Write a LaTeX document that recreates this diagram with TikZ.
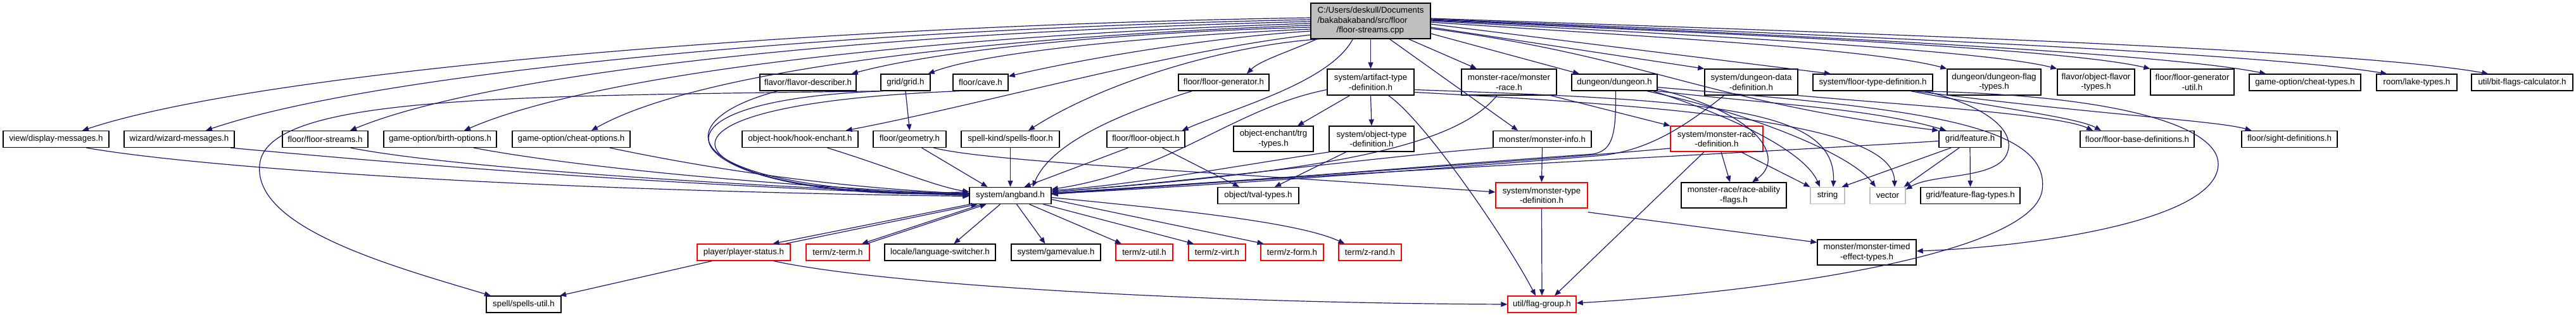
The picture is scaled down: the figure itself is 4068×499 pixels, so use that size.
\documentclass[tikz,border=0pt]{standalone}
\usepackage{fontspec}
\setmainfont{Liberation Sans}
\usetikzlibrary{arrows.meta}
\definecolor{dblue}{HTML}{191970}
\definecolor{gsev}{HTML}{BFBFBF}
\begin{document}
\begin{tikzpicture}[x=1pt,y=-1pt,
  nb/.style={draw=black, line width=1.3pt, inner sep=0pt, align=center, fill=white,
    font=\fontsize{13.3}{15.5}\selectfont, minimum height=26pt},
  two/.style={minimum height=41pt},
  rb/.style={nb, draw=red},
  gb/.style={nb, draw=gsev},
  dep/.style={draw=dblue, line width=1.2pt, -{Triangle[length=10pt,width=8pt]}}]
\path[use as bounding box] (0,0) rectangle (4068,499);

% root
\node[nb, fill=gsev, minimum width=189pt, minimum height=56pt, align=left] (r) at (2164.5,33)
  {C:/Users/deskull/Documents\\/bakabakaband/src/floor\\\hspace*{30pt}/floor-streams.cpp};

% row A
\node[nb, minimum width=152pt] (fd) at (1276,130) {flavor/flavor-describer.h};
\node[nb, minimum width=78pt] (gg) at (1430,130) {grid/grid.h};
\node[nb, minimum width=87pt] (cave) at (1548.5,130) {floor/cave.h};
\node[nb, minimum width=143pt] (fg) at (1932.5,130) {floor/floor-generator.h};
\node[nb, two, minimum width=137pt] (art) at (2164.5,129.5) {system/artifact-type\\-definition.h};
\node[nb, two, minimum width=150pt] (mr) at (2383,129.5) {monster-race/monster\\-race.h};
\node[nb, minimum width=135pt] (dun) at (2549.5,130) {dungeon/dungeon.h};
\node[nb, two, minimum width=147pt] (ddd) at (2765.5,129.5) {system/dungeon-data\\-definition.h};
\node[nb, minimum width=189pt] (ftd) at (2957.5,130) {system/floor-type-definition.h};
\node[nb, two, minimum width=148pt] (dft) at (3149,129.5) {dungeon/dungeon-flag\\-types.h};
\node[nb, two, minimum width=122pt] (oft) at (3310,129.5) {flavor/object-flavor\\-types.h};
\node[nb, two, minimum width=132pt] (fgu) at (3462,129.5) {floor/floor-generator\\-util.h};
\node[nb, minimum width=176pt] (ct) at (3640,130) {game-option/cheat-types.h};
\node[nb, minimum width=127pt] (lt) at (3816.5,130) {room/lake-types.h};
\node[nb, minimum width=160pt] (bfc) at (3983,130) {util/bit-flags-calculator.h};

% row B
\node[nb, minimum width=167pt] (dm) at (88.5,219.5) {view/display-messages.h};
\node[nb, minimum width=174pt] (wm) at (283,219.5) {wizard/wizard-messages.h};
\node[nb, minimum width=135pt] (fs) at (513.5,219.5) {floor/floor-streams.h};
\node[nb, minimum width=178pt] (bo) at (695,219.5) {game-option/birth-options.h};
\node[nb, minimum width=186pt] (co) at (902,219.5) {game-option/cheat-options.h};
\node[nb, minimum width=183pt] (he) at (1263.5,219.5) {object-hook/hook-enchant.h};
\node[nb, minimum width=115pt] (geo) at (1436.5,219.5) {floor/geometry.h};
\node[nb, minimum width=155pt] (sf) at (1595.5,219.5) {spell-kind/spells-floor.h};
\node[nb, minimum width=123pt] (fo) at (1809.5,219.5) {floor/floor-object.h};
\node[nb, two, minimum width=126pt, minimum height=40pt] (trg) at (2011,219) {object-enchant/trg\\-types.h};
\node[nb, two, minimum width=134pt, minimum height=40pt] (otd) at (2166,219) {system/object-type\\-definition.h};
\node[nb, minimum width=155pt] (mi) at (2435.5,219.5) {monster/monster-info.h};
\node[rb, two, minimum width=146pt, minimum height=40pt] (mrd) at (2711,219) {system/monster-race\\-definition.h};
\node[nb, minimum width=98pt] (feat) at (3111,219.5) {grid/feature.h};
\node[nb, minimum width=180pt] (fbd) at (3375,219.5) {floor/floor-base-definitions.h};
\node[nb, minimum width=151pt] (sd) at (3615.5,219.5) {floor/sight-definitions.h};

% row C
\node[nb, minimum width=129pt] (ang) at (1595.5,308.5) {system/angband.h};
\node[nb, minimum width=128pt] (tval) at (1987,308.5) {object/tval-types.h};
\node[rb, two, minimum width=145pt, minimum height=40pt] (mtd) at (2434.5,308) {system/monster-type\\-definition.h};
\node[nb, two, minimum width=166pt, minimum height=40pt] (raf) at (2738,308) {monster-race/race-ability\\-flags.h};
\node[gb, minimum width=54pt] (str) at (2886,308.5) {string};
\node[gb, minimum width=56pt] (vec) at (2981,308.5) {vector};
\node[nb, minimum width=157pt] (fft) at (3111.5,308.5) {grid/feature-flag-types.h};

% row D
\node[rb, minimum width=147pt] (ps) at (1174.5,398) {player/player-status.h};
\node[rb, minimum width=100pt] (zt) at (1323,398) {term/z-term.h};
\node[nb, minimum width=175pt] (ls) at (1484.5,398) {locale/language-switcher.h};
\node[nb, minimum width=141pt] (gv) at (1667.5,398) {system/gamevalue.h};
\node[rb, minimum width=90pt] (zu) at (1807,398) {term/z-util.h};
\node[rb, minimum width=90pt] (zv) at (1922,398) {term/z-virt.h};
\node[rb, minimum width=99pt] (zf) at (2040.5,398) {term/z-form.h};
\node[rb, minimum width=99pt] (zr) at (2163.5,398) {term/z-rand.h};
\node[nb, two, minimum width=156pt, minimum height=40pt] (mte) at (2948,398) {monster/monster-timed\\-effect-types.h};

% row E
\node[nb, minimum width=118pt] (su) at (827,480) {spell/spells-util.h};
\node[rb, minimum width=108pt] (fgr) at (2435,480) {util/flag-group.h};

% ---- edges from root
\draw[dep] ([yshift=5pt]r.west) .. controls (1300,40) and (420,110) .. ([xshift=41.5pt]dm.north);
\draw[dep] ([yshift=2pt]r.west) .. controls (1350,45) and (600,112) .. ([xshift=42pt]wm.north);
\draw[dep] ([yshift=-1pt]r.west) .. controls (1400,50) and (780,112) .. ([xshift=39.5pt]fs.north);
\draw[dep] ([yshift=-4pt]r.west) .. controls (1500,55) and (950,112) .. ([xshift=38pt]bo.north);
\draw[dep] ([yshift=-7pt]r.west) .. controls (1550,58) and (1100,112) .. ([xshift=32pt]co.north);
\draw[dep] ([yshift=-10pt]r.west) .. controls (1800,50) and (1500,75) .. ([xshift=-8pt]fd.north east);
\draw[dep] ([yshift=-13pt]r.west) .. controls (1850,55) and (1560,80) .. ([xshift=-4pt]gg.north east);
\draw[dep] ([yshift=-16pt]r.west) .. controls (1900,60) and (1700,95) .. ([yshift=-4pt]cave.north east);
\draw[dep] ([yshift=-22pt]r.west) .. controls (1850,80) and (1550,165) .. ([xshift=-20pt]he.north east);
\draw[dep] ([xshift=10pt]r.south west) .. controls (2040,80) and (1990,95) .. ([xshift=36.5pt]fg.north);
\draw[dep] ([xshift=15pt]r.south west) .. controls (1950,70) and (1750,125) .. ([xshift=28.5pt]sf.north);
\draw[dep] ([xshift=67pt]r.south west) .. controls (2100,130) and (1950,170) .. ([xshift=-5pt]fo.north east);
\draw[dep] (r.south) -- (art.north);
\draw[dep] ([xshift=30pt]r.south) -- ([xshift=-38.5pt]mi.north);
\draw[dep] ([xshift=60pt]r.south) -- ([xshift=-51pt]mr.north);
\draw[dep] ([yshift=-20pt]r.east) -- ([xshift=-55.5pt]dun.north);
\draw[dep] ([yshift=-10pt]r.east) -- (ddd.north west);
\draw[dep] ([yshift=-5pt]r.east) -- ([xshift=-66.5pt]ftd.north);
\draw[dep] ([yshift=-2pt]r.east) .. controls (2550,55) and (2950,75) .. (dft.north west);
\draw[dep] (r.east) .. controls (2600,52) and (3120,76) .. (oft.north west);
\draw[dep] ([yshift=1pt]r.east) .. controls (2650,50) and (3250,74) .. (fgu.north west);
\draw[dep] ([yshift=2pt]r.east) .. controls (2700,50) and (3400,80) .. ([xshift=27pt]ct.north west);
\draw[dep] ([yshift=3pt]r.east) .. controls (2750,50) and (3550,80) .. ([xshift=17pt]lt.north west);
\draw[dep] ([yshift=4pt]r.east) .. controls (2800,48) and (3700,75) .. ([xshift=27pt]bfc.north west);
\draw[dep] ([yshift=-12pt]r.east) .. controls (2600,90) and (2690,160) .. (feat.north west);

% ---- row A
\draw[dep] ([xshift=-48pt]fd.south) .. controls (1050,190) and (1050,300) .. ([yshift=2pt]ang.west);
\draw[dep] (gg.south) -- (geo.north);
\draw[dep] ([xshift=-35pt]gg.south) .. controls (950,160) and (1080,320) .. ([yshift=4pt]ang.west);
\draw[dep] (gg.south west) .. controls (800,152) and (420,150) .. (410,260) .. controls (400,360) and (620,420) .. ([xshift=-52pt]su.north);
\draw[dep] ([xshift=-34pt]cave.south) .. controls (900,168) and (1110,320) .. ([yshift=6pt]ang.west);
\draw[dep] ([xshift=-50pt]fg.south) .. controls (1700,200) and (1650,250) .. ([xshift=35pt]ang.north);
\draw[dep] ([xshift=-33pt]art.south) -- ([xshift=38pt]trg.north);
\draw[dep] (art.south) -- (otd.north);
\draw[dep] ([yshift=-12pt]art.west) .. controls (1950,170) and (1850,270) .. ([yshift=10pt]ang.east);
\draw[dep] ([xshift=28pt]art.south) .. controls (2250,190) and (2380,380) .. ([xshift=-10pt]fgr.north);
\draw[dep] ([yshift=-12pt]art.east) .. controls (2700,158) and (2900,170) .. ([xshift=9pt]str.north);
\draw[dep] ([yshift=-16pt]art.east) .. controls (2700,170) and (2990,200) .. ([xshift=11pt]vec.north);
\draw[dep] ([xshift=-19pt]mr.south) .. controls (2300,230) and (2100,270) .. ([yshift=6pt]ang.east);
\draw[dep] ([xshift=-10pt]mr.south east) -- (mrd.north west);
\draw[dep] ([xshift=2pt]dun.south) .. controls (2552,210) and (2548,238) .. (2515,243) .. controls (2300,258) and (1900,292) .. ([yshift=4pt]ang.east);
\draw[dep] (dun.south east) .. controls (2800,165) and (2950,170) .. ([xshift=12pt]feat.north west);
\draw[dep] ([yshift=3pt]dun.south east) .. controls (2780,180) and (2820,250) .. ([xshift=29pt]raf.north);
\draw[dep] ([xshift=-7pt]dun.south east) .. controls (2740,185) and (2850,240) .. ([xshift=-12pt]str.north);
\draw[dep] ([xshift=-17pt]dun.south east) .. controls (2750,175) and (2920,240) .. ([xshift=-19pt]vec.north);
\draw[dep] ([yshift=6pt]dun.south east) .. controls (3000,170) and (3240,190) .. (3225,300) .. controls (3210,400) and (2800,460) .. ([yshift=2pt]fgr.east);
\draw[dep] ([xshift=-43pt]ddd.south) .. controls (2660,200) and (2600,240) .. (2520,246) .. controls (2300,264) and (1900,294) .. ([yshift=3pt]ang.east);
\draw[dep] (ddd.south east) .. controls (3000,165) and (3250,180) .. ([xshift=-70pt]fbd.north);
\draw[dep] ([xshift=60pt]ftd.south) .. controls (3150,170) and (3280,185) .. ([xshift=-57pt]fbd.north);
\draw[dep] ([xshift=67pt]ftd.south) .. controls (3300,180) and (3500,190) .. ([xshift=-60pt]sd.north);
\draw[dep] ([xshift=72pt]ftd.south) .. controls (3350,150) and (3505,200) .. (3503,260) .. controls (3500,350) and (3200,390) .. ([yshift=2pt]mte.east);
\draw[dep] ([xshift=82pt]ftd.south) .. controls (3150,170) and (3190,215) .. (3165,250) .. controls (3140,282) and (3050,275) .. ([yshift=-4pt]vec.north east);

% ---- row B
\draw[dep] ([xshift=48pt]dm.south) .. controls (300,262) and (800,300) .. ([yshift=-1pt]ang.west);
\draw[dep] ([xshift=81pt]wm.south) .. controls (600,255) and (1000,290) .. (ang.west);
\draw[dep] ([xshift=40pt]fs.south) .. controls (700,262) and (1100,290) .. ([yshift=1pt]ang.west);
\draw[dep] ([xshift=53pt]bo.south) .. controls (900,262) and (1200,292) .. ([yshift=2pt]ang.west);
\draw[dep] ([xshift=61pt]co.south) .. controls (1100,262) and (1300,295) .. ([yshift=3pt]ang.west);
\draw[dep] ([xshift=43pt]he.south) .. controls (1400,262) and (1480,295) .. ([yshift=6pt]ang.west);
\draw[dep] ([xshift=19pt]geo.south) -- ([xshift=-36pt]ang.north);
\draw[dep] ([xshift=38pt]geo.south) .. controls (1560,255) and (1900,270) .. ([yshift=5pt]mtd.west);
\draw[dep] (sf.south) -- (ang.north);
\draw[dep] ([xshift=-28pt]fo.south) -- ([xshift=22pt]ang.north);
\draw[dep] ([xshift=26pt]fo.south) -- ([xshift=-30pt]tval.north);
\draw[dep] ([xshift=-66pt]otd.south) .. controls (1950,262) and (1800,290) .. ([yshift=8pt]ang.east);
\draw[dep] ([xshift=-40pt]otd.south) -- ([xshift=26pt]tval.north);
\draw[dep] (mi.south) -- (mtd.north);
\draw[dep] (mi.south west) .. controls (2150,250) and (1900,285) .. ([yshift=6pt]ang.east);
\draw[dep] ([yshift=-15pt]mrd.west) .. controls (2400,255) and (2000,282) .. ([yshift=4pt]ang.east);
\draw[dep] ([xshift=7pt]mrd.south) -- ([xshift=-6pt]raf.north);
\draw[dep] ([xshift=38pt]mrd.south) -- (str.north west);
\draw[dep] ([xshift=-20pt]mrd.south) -- ([xshift=20pt]fgr.north);
\draw[dep] ([yshift=-3pt]feat.west) .. controls (2700,245) and (2100,272) .. ([yshift=2pt]ang.east);
\draw[dep] ([xshift=-30pt]feat.south) -- ([xshift=-5pt]str.north east);
\draw[dep] ([xshift=-17pt]feat.south) -- ([xshift=-3pt]vec.north east);
\draw[dep] (feat.south) -- (fft.north);

% ---- rows C, D
\draw[dep] ([xshift=-63pt]ang.south) -- ([xshift=46pt]ps.north);
\draw[dep] ([xshift=66pt]ps.north) -- ([xshift=-52pt]ang.south);
\draw[dep] ([xshift=-45pt]ang.south) -- ([xshift=38pt]zt.north);
\draw[dep] ([xshift=46pt]zt.north) -- ([xshift=-38pt]ang.south);
\draw[dep] ([xshift=-16pt]ang.south) -- ([xshift=22pt]ls.north);
\draw[dep] ([xshift=10pt]ang.south) -- ([xshift=-17pt]gv.north);
\draw[dep] ([xshift=30pt]ang.south) -- ([xshift=-36pt]zu.north);
\draw[dep] ([xshift=52pt]ang.south) -- ([xshift=-37pt]zv.north);
\draw[dep] ([yshift=-6pt]ang.east) -- ([xshift=-45pt]zf.north);
\draw[dep] ([yshift=-3pt]ang.east) .. controls (1850,330) and (2050,350) .. ([xshift=-40pt]zr.north);
\draw[dep] ([xshift=-50pt]ps.south) -- ([xshift=57pt]su.north);
\draw[dep] ([xshift=47pt]ps.south) .. controls (1400,450) and (1900,478) .. (fgr.west);
\draw[dep] (mtd.south) -- (fgr.north);
\draw[dep] ([yshift=-6pt]mtd.south east) -- ([yshift=-5pt]mte.north west);
\end{tikzpicture}
\end{document}
